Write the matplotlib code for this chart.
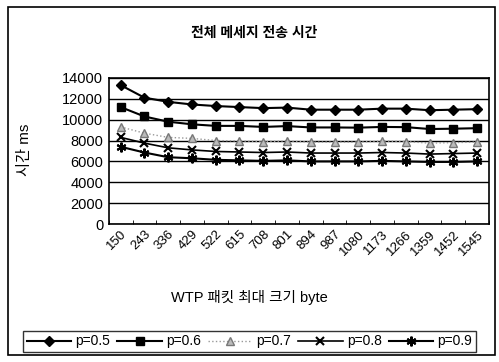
import numpy as np
import matplotlib
matplotlib.use('Agg')
import matplotlib.pyplot as plt
from matplotlib.patches import Rectangle

plt.rcParams['font.family'] = ['Liberation Sans', 'Noto Sans CJK KR', 'DejaVu Sans']

# WTP 패킷 최대 크기 (byte)
sizes = ['150', '243', '336', '429', '522', '615', '708', '801',
         '894', '987', '1080', '1173', '1266', '1359', '1452', '1545']

# 전체 메세지 전송 시간 (ms)
p05 = [13300, 12100, 11700, 11450, 11300, 11200, 11100, 11150,
       10950, 10950, 10950, 11050, 11050, 10900, 10950, 11000]
p06 = [11200, 10300, 9800, 9550, 9400, 9400, 9300, 9380,
       9250, 9250, 9230, 9300, 9280, 9100, 9130, 9180]
p07 = [9300, 8700, 8300, 8200, 8000, 7950, 7900, 7950,
       7850, 7850, 7850, 7950, 7900, 7750, 7800, 7850]
p08 = [8300, 7750, 7300, 7100, 6950, 6900, 6850, 6900,
       6800, 6800, 6800, 6850, 6800, 6700, 6750, 6800]
p09 = [7400, 6850, 6400, 6300, 6150, 6100, 6050, 6100,
       6000, 6000, 6000, 6050, 6000, 5950, 5950, 6000]

fig = plt.figure(figsize=(4.99, 3.62), dpi=100)
ax = fig.add_axes([0.218, 0.381, 0.762, 0.404])

x = np.arange(len(sizes))
ax.plot(x, p05, color='black', lw=1.5, marker='D', ms=5, label='p=0.5')
ax.plot(x, p06, color='black', lw=1.5, marker='s', ms=6, label='p=0.6')
ax.plot(x, p07, color='#999999', lw=1.0, ls=':', marker='^', ms=6,
        mfc='#bbbbbb', mec='#777777', label='p=0.7')
ax.plot(x, p08, color='black', lw=1.2, marker='x', ms=6, mew=1.5, label='p=0.8')
ax.plot(x, p09, color='black', lw=1.5, marker=(6, 2, 0), ms=7, mew=1.5, label='p=0.9')

ax.set_xlim(-0.5, len(sizes) - 0.5)
ax.set_ylim(0, 14000)
ax.set_yticks(range(0, 14001, 2000))
ax.yaxis.grid(True, color='black', lw=1)
ax.set_axisbelow(True)
ax.tick_params(axis='y', length=0, labelsize=10.5, pad=4)

ax.set_xticks(x)
ax.set_xticklabels(sizes, rotation=45, ha='right', rotation_mode='anchor', fontsize=9.5)
ax.tick_params(axis='x', length=0, pad=3)
ax.set_xticks(np.arange(-0.5, len(sizes)), minor=True)
ax.tick_params(axis='x', which='minor', length=3, direction='in')
for s in ax.spines.values():
    s.set_linewidth(1.2)

fig.text(0.51, 0.91, '전체 메세지 전송 시간', ha='center', va='center',
         fontsize=10, fontweight='bold')
fig.text(0.05, 0.585, '시간 ms', rotation=90, ha='center', va='center', fontsize=11)
fig.text(0.5, 0.177, 'WTP 패킷 최대 크기 byte', ha='center', va='center', fontsize=10.5)

leg = fig.legend(loc='center', bbox_to_anchor=(0.5, 0.057), ncol=5, frameon=True,
                 fancybox=False, edgecolor='black', fontsize=10, handlelength=3.2,
                 handletextpad=0.3, columnspacing=0.5, borderpad=0.25)
leg.get_frame().set_linewidth(1.0)

fig.patches.append(Rectangle((0.016, 0.02), 0.975, 0.962, transform=fig.transFigure,
                             fill=False, edgecolor='black', lw=1.2))

fig.savefig('out.png', dpi=100)
